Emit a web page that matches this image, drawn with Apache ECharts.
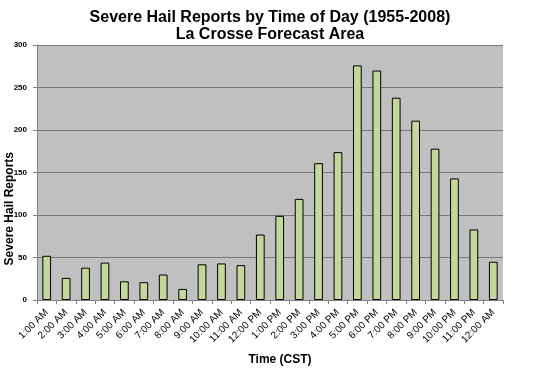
<!DOCTYPE html>
<html>
<head>
<meta charset="utf-8">
<script src="https://cdn.jsdelivr.net/npm/echarts@6/dist/echarts.min.js"></script>
<style>html,body{margin:0;padding:0;background:#fff;}#c{width:540px;height:368px;}</style>
</head>
<body>
<div id="c"></div>
<script>
var categories = ["1:00 AM","2:00 AM","3:00 AM","4:00 AM","5:00 AM","6:00 AM","7:00 AM","8:00 AM","9:00 AM","10:00 AM","11:00 AM","12:00 PM","1:00 PM","2:00 PM","3:00 PM","4:00 PM","5:00 PM","6:00 PM","7:00 PM","8:00 PM","9:00 PM","10:00 PM","11:00 PM","12:00 AM"];
var reports = [52,26,38,44,22,21,30,13,42,43,41,77,99,119,161,174,276,270,238,211,178,143,83,45];
var yTicks = [0,50,100,150,200,250,300];

var chart = echarts.init(document.getElementById('c'), null, {renderer:'canvas'});
var font = 'Liberation Sans, Arial, sans-serif';
chart.setOption({
  animation:false,
  backgroundColor:'#ffffff',
  title:{
    text:'Severe Hail Reports by Time of Day (1955-2008)\nLa Crosse Forecast Area',
    left:'center', top:4,
    textStyle:{fontFamily:font, fontSize:16, fontWeight:'bold', color:'#000', lineHeight:17}
  },
  graphic:[{
    type:'text', left:4, top:152, rotation:Math.PI/2,
    style:{text:'Severe Hail Reports', font:'bold 12px ' + font, fill:'#000'}
  }],
  grid:{left:37, right:37, top:45, bottom:68, show:true, backgroundColor:'#c0c0c0', borderWidth:0,
        containLabel:false, outerBoundsMode:'none'},
  xAxis:{
    type:'category', data:categories,
    name:'Time (CST)', nameLocation:'middle', nameGap:54,
    nameTextStyle:{fontFamily:font, fontSize:12, fontWeight:'bold', color:'#000', padding:[0,0,0,20]},
    axisLine:{lineStyle:{color:'#808080', width:1}},
    axisTick:{show:true, alignWithLabel:false, length:4, lineStyle:{color:'#808080'}},
    axisLabel:{rotate:45, fontFamily:font, fontSize:10, color:'#000', interval:0, margin:11}
  },
  yAxis:{
    type:'value', min:0, max:300, interval:50,
    axisLine:{show:true, lineStyle:{color:'#808080', width:1}},
    axisTick:{show:true, length:4, lineStyle:{color:'#808080'}},
    axisLabel:{fontFamily:font, fontSize:8, fontWeight:'bold', color:'#000', margin:10,
      formatter:function(v){return yTicks.indexOf(v)>=0 ? String(v) : '';}},
    splitLine:{show:true, lineStyle:{color:'#777777', width:1}}
  },
  series:[{
    type:'bar', data:reports, barWidth:'45%',
    itemStyle:{color:'#c4d79b', borderColor:'#000000', borderWidth:1}
  }]
});
</script>
</body>
</html>
